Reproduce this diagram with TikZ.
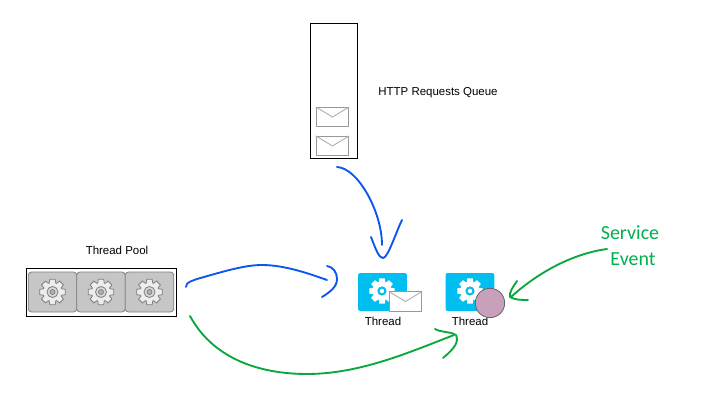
\documentclass[tikz,border=0pt]{standalone}
\usepackage{fontspec}
\setmainfont{Liberation Sans}
\newfontfamily\handfont{Carlito}
\usetikzlibrary{calc}
\definecolor{threadblue}{HTML}{00BEF0}
\definecolor{strokeblue}{HTML}{0B55F0}
\definecolor{strokegreen}{HTML}{0AA83C}
\definecolor{eventgreen}{HTML}{00B050}
\definecolor{eventpink}{HTML}{C8A0BC}
\definecolor{cellgray}{HTML}{C6C6C6}
\tikzset{
  framebox/.style={draw=black, line width=0.55pt, inner sep=0pt},
  cellbox/.style={draw=black!50, fill=cellgray, line width=0.6pt, rounded corners=2.5pt,
    minimum width=36.5pt, minimum height=30pt, inner sep=0pt},
  threadbox/.style={fill=threadblue, rounded corners=1.5pt,
    minimum width=36.5pt, minimum height=28.5pt, inner sep=0pt},
  mailbox/.style={draw=black!40, fill=white, line width=0.7pt,
    minimum width=24.5pt, minimum height=14.5pt, inner sep=0pt},
  caption/.style={font=\fontsize{8.6pt}{10pt}\selectfont, inner sep=0pt},
  eventtext/.style={font=\handfont\fontsize{15pt}{18pt}\selectfont, text=eventgreen, inner sep=0pt},
  bluestroke/.style={draw=strokeblue, line width=1.4pt, line cap=round, line join=round},
  greenstroke/.style={draw=strokegreen, line width=1.4pt, line cap=round, line join=round},
  cogwhite/.pic={
    \fill[white] (-12:13)
      \foreach \a in {0,45,...,315} {
        -- (\a-12:13) -- (\a+12:13) -- (\a+20:9.5) -- (\a+25:9.5) } -- cycle;
    \fill[threadblue] (0,0) circle (4.6);
    \fill[white] (0,0) circle (2.2);
  },
  coggray/.pic={
    \draw[draw=black!50, fill=black!7, line width=0.6pt] (-12:13)
      \foreach \a in {0,45,...,315} {
        -- (\a-12:13) -- (\a+12:13) -- (\a+20:9.5) -- (\a+25:9.5) } -- cycle;
    \draw[draw=black!50, fill=black!15, line width=0.6pt] (0,0) circle (5.5);
    \draw[draw=black!50, fill=black!30, line width=0.6pt] (0,0) circle (2.5);
  },
}
% Envelope flap, drawn over a mailbox node
\newcommand{\mailflap}[1]{
  \draw[draw=black!30, line width=0.7pt] (#1.north west) -- (#1.center) -- (#1.north east);
}
\begin{document}
\begin{tikzpicture}[x=0.75pt, y=-0.75pt]
\useasboundingbox (0,0) rectangle (715,403);

% Queue with two messages
\node[framebox, minimum width=35.25pt, minimum height=101.25pt] (queue) at (333.5,90.5) {};
\node[mailbox] (mailone) at (332.5,117) {};
\mailflap{mailone}
\node[mailbox] (mailtwo) at (332.5,146) {};
\mailflap{mailtwo}
\node[caption] (queuetext) at (438,92.5) {HTTP Requests Queue};

% Thread pool
\node[caption] (pooltext) at (117,250.5) {Thread Pool};
\node[framebox, minimum width=112.5pt, minimum height=36pt] (pool) at (101,292) {};
\node[cellbox] (cellone) at (52.5,292) {};
\node[cellbox] (celltwo) at (101,292) {};
\node[cellbox] (cellthree) at (149.5,292) {};
\foreach \c in {cellone,celltwo,cellthree} {
  \pic at (\c) {coggray};
}

% Thread with message
\node[threadbox] (threadone) at (382.5,292) {};
\pic at (382,291) {cogwhite};
\node[mailbox] (threadmail) at (405.5,301.5) {};
\mailflap{threadmail}
\node[caption] (threadonetext) at (383,321) {Thread};

% Thread with event
\node[threadbox] (threadtwo) at (470,292) {};
\pic at (470,291) {cogwhite};
\node[caption] (threadtwotext) at (470,321) {Thread};
\node[circle, draw=black!60, fill=eventpink, line width=0.6pt, minimum size=22pt, inner sep=0pt] (event) at (490,303) {};

% Service event text
\node[eventtext] (serviceword) at (630,233) {Service};
\node[eventtext] (eventword) at (633,259) {Event};

% Free ends of the hand drawn arrows
\coordinate (queueout) at (337,167);
\coordinate (queuetip) at (382,245);
\coordinate (poolout) at (186,287);
\coordinate (pooltip) at (327,280);
\coordinate (poollow) at (190,316);
\coordinate (lowtip) at (454,335);
\coordinate (eventout) at (607,249);
\coordinate (eventtip) at (511,297);

% Blue arrows
\draw[bluestroke] (queueout) .. controls (358,168) and (382,212) .. (queuetip);
\draw[bluestroke] (371,237) .. controls (376,250) and (379,258) .. (383,258) .. controls (388,258) and (396,232) .. (402,220);
\draw[bluestroke] (poolout) .. controls (186,282) and (192,281) .. (197,279) .. controls (225,271) and (245,265) .. (262,265) .. controls (285,265) and (310,274) .. (pooltip);
\draw[bluestroke] (327,266) .. controls (333,267) and (337,272) .. (337,279) .. controls (337,287) and (330,292) .. (322,297);

% Green arrows
\draw[greenstroke] (poollow) .. controls (215,362) and (265,374) .. (307,374) .. controls (360,374) and (410,352) .. (lowtip);
\draw[greenstroke] (435,329) .. controls (442,333) and (450,331) .. (456,335) .. controls (459,342) and (455,348) .. (443,358);
\draw[greenstroke] (eventout) .. controls (570,254) and (535,275) .. (eventtip);
\draw[greenstroke] (517,281) .. controls (513,287) and (509,292) .. (510,297) .. controls (515,300) and (522,300) .. (528,300);
\end{tikzpicture}
\end{document}
